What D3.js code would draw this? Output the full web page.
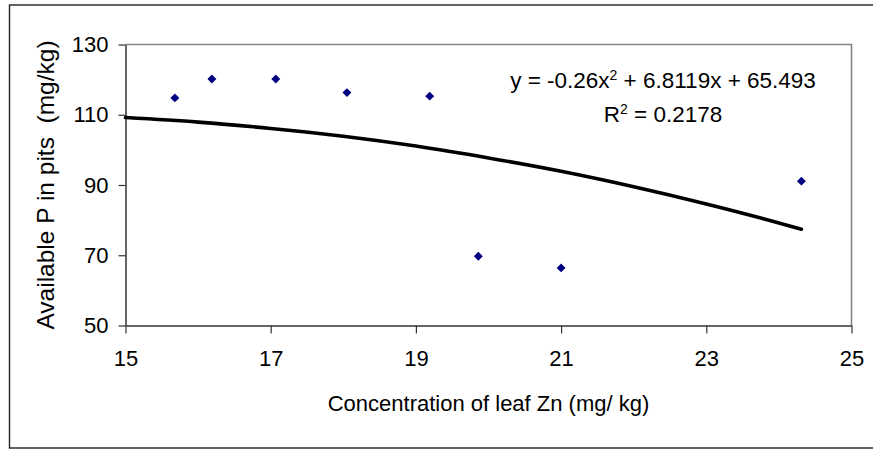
<!DOCTYPE html>
<html>
<head>
<meta charset="utf-8">
<script src="https://cdn.jsdelivr.net/npm/d3@7"></script>
<style>
  html, body { margin: 0; padding: 0; background: #fff; }
  svg { display: block; font-family: "Liberation Sans", Arial, sans-serif; }
</style>
</head>
<body>
<div id="chart"></div>
<script>
// scatter data (leaf Zn vs available P)
const zinc = [15.68, 16.19, 17.07, 18.05, 19.19, 19.86, 21.0, 24.31];
const phosphorus = [114.8, 120.2, 120.2, 116.3, 115.3, 69.7, 66.4, 91.1];

// polynomial trendline
const trendX = [15, 16, 17, 18, 19, 20, 21, 22, 23, 24, 24.31];
const trendY = [109.2, 107.9, 106.1, 103.9, 101.1, 97.7, 93.9, 89.5, 84.6, 79.2, 77.4];

const xTicks = [15, 17, 19, 21, 23, 25];
const yTicks = [50, 70, 90, 110, 130];

(function () {
    const width = 873;
    const height = 449;
    const plot = { left: 125.5, top: 44.5, right: 851.5, bottom: 325.5 };

    const svg = d3.select("#chart")
        .append("svg")
        .attr("width", width)
        .attr("height", height);

    // outer chart frame (right edge runs off the picture)
    svg.append("rect")
        .attr("x", 9.5).attr("y", 5)
        .attr("width", 880).attr("height", 443)
        .attr("fill", "none")
        .attr("stroke", "#222")
        .attr("stroke-width", 1.4);

    const x = d3.scaleLinear().domain([15, 25]).range([plot.left, plot.right]);
    const y = d3.scaleLinear().domain([50, 130]).range([plot.bottom, plot.top]);

    // plot area border, top and right in grey
    svg.append("path")
        .attr("d", `M${plot.left},${plot.top}H${plot.right}V${plot.bottom}`)
        .attr("fill", "none")
        .attr("stroke", "#858585")
        .attr("stroke-width", 1.6);

    const xAxis = svg.append("g")
        .attr("transform", `translate(0,${plot.bottom})`)
        .call(d3.axisBottom(x).tickValues(xTicks).tickSize(8).tickPadding(17).tickSizeOuter(0));
    const yAxis = svg.append("g")
        .attr("transform", `translate(${plot.left},0)`)
        .call(d3.axisLeft(y).tickValues(yTicks).tickSize(7).tickPadding(10).tickSizeOuter(0));

    [xAxis, yAxis].forEach(g => {
        g.select(".domain").attr("stroke", "#333").attr("stroke-width", 1.5);
        g.selectAll(".tick line").attr("stroke", "#333").attr("stroke-width", 1.2);
        g.selectAll(".tick text")
            .attr("fill", "#000")
            .attr("font-size", 22)
            .attr("font-family", "Liberation Sans, Arial, sans-serif");
    });

    // trendline
    const line = d3.line()
        .x((d, i) => x(trendX[i]))
        .y(d => y(d))
        .curve(d3.curveMonotoneX);
    svg.append("path")
        .datum(trendY)
        .attr("d", line)
        .attr("fill", "none")
        .attr("stroke", "#000")
        .attr("stroke-width", 3.6)
        .attr("stroke-linecap", "round");

    // data points as navy diamonds
    svg.selectAll(".pt").data(phosphorus)
        .enter().append("path")
        .attr("class", "pt")
        .attr("d", d3.symbol().type(d3.symbolSquare).size(40))
        .attr("transform", (d, i) => `translate(${x(zinc[i])},${y(d)}) rotate(45)`)
        .attr("fill", "#000080");

    // equation and R squared
    const eq = svg.append("text")
        .attr("x", 663).attr("y", 88)
        .attr("text-anchor", "middle")
        .attr("font-size", 22.5);
    eq.append("tspan").text("y = -0.26x");
    eq.append("tspan").attr("dy", -8).attr("font-size", 14).text("2");
    eq.append("tspan").attr("dy", 8).text(" + 6.8119x + 65.493");

    const r2 = svg.append("text")
        .attr("x", 663).attr("y", 122)
        .attr("text-anchor", "middle")
        .attr("font-size", 22.5);
    r2.append("tspan").text("R");
    r2.append("tspan").attr("dy", -8).attr("font-size", 14).text("2");
    r2.append("tspan").attr("dy", 8).text(" = 0.2178");

    // axis titles
    svg.append("text")
        .attr("x", (plot.left + plot.right) / 2)
        .attr("y", 411)
        .attr("text-anchor", "middle")
        .attr("font-size", 22)
        .text("Concentration of leaf Zn (mg/ kg)");

    svg.append("text")
        .attr("transform", `translate(54,${(plot.top + plot.bottom) / 2}) rotate(-90)`)
        .attr("text-anchor", "middle")
        .attr("font-size", 24.5)
        .attr("xml:space", "preserve")
        .style("white-space", "pre")
        .text("Available P in pits  (mg/kg)");
})();
</script>
</body>
</html>
